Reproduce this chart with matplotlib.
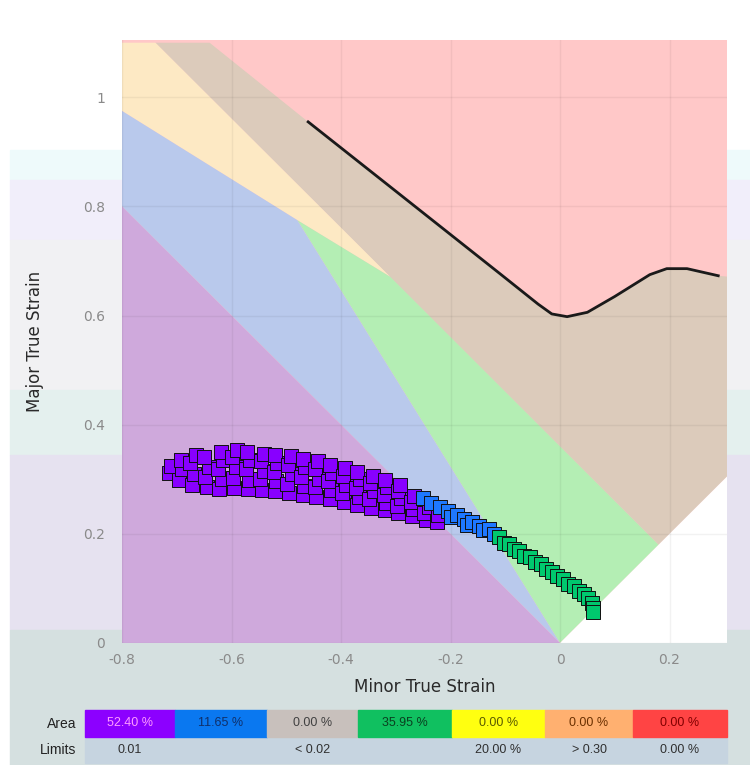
import matplotlib.pyplot as plt
from matplotlib.patches import Rectangle, Polygon

plt.rcParams['axes.unicode_minus'] = False

# ---- forming limit curve (black line)
flc_x = [-0.46, -0.30, -0.11, -0.04, -0.015, 0.013, 0.05, 0.10, 0.164, 0.195, 0.232, 0.289]
flc_y = [0.955, 0.828, 0.677, 0.621, 0.603, 0.598, 0.606, 0.635, 0.675, 0.686, 0.686, 0.673]

# ---- zone outlines (red zone = axes background)
tan_x = [-0.739, -0.64] + flc_x + [0.31, 0.31, 0.18]
tan_y = [1.10, 1.10] + flc_y + [0.671, 0.31, 0.18]
yellow_x = [-0.80, -0.739, -0.31, -0.48, -0.80]
yellow_y = [1.10, 1.10, 0.671, 0.775, 0.975]
green_x = [-0.48, -0.31, 0.18, 0.0]
green_y = [0.775, 0.671, 0.18, 0.0]
blue_x = [-0.80, -0.48, 0.0, -0.80]
blue_y = [0.975, 0.775, 0.0, 0.80]
purple_x = [-0.80, 0.0, -0.80]
purple_y = [0.80, 0.0, 0.0]
white_x = [0.0, 0.31, 0.31]
white_y = [0.0, 0.31, 0.0]

# ---- measured strain points
pts_purple = [
    (-0.715, 0.312), (-0.71, 0.325),
    (-0.695, 0.298), (-0.69, 0.318), (-0.692, 0.335),
    (-0.672, 0.29), (-0.668, 0.31), (-0.675, 0.33), (-0.665, 0.345),
    (-0.645, 0.285), (-0.648, 0.305), (-0.642, 0.322), (-0.65, 0.34),
    (-0.622, 0.282), (-0.618, 0.3), (-0.625, 0.318), (-0.615, 0.336), (-0.62, 0.35),
    (-0.595, 0.284), (-0.598, 0.303), (-0.592, 0.322), (-0.6, 0.34), (-0.59, 0.354),
    (-0.57, 0.283), (-0.568, 0.298), (-0.573, 0.318), (-0.566, 0.336), (-0.572, 0.35),
    (-0.545, 0.28), (-0.548, 0.3), (-0.54, 0.315), (-0.547, 0.333), (-0.54, 0.347),
    (-0.52, 0.278), (-0.518, 0.296), (-0.523, 0.313), (-0.516, 0.33), (-0.52, 0.345),
    (-0.495, 0.275), (-0.498, 0.292), (-0.49, 0.31), (-0.497, 0.326), (-0.492, 0.342),
    (-0.47, 0.272), (-0.468, 0.288), (-0.473, 0.305), (-0.466, 0.322), (-0.47, 0.337),
    (-0.445, 0.268), (-0.448, 0.285), (-0.44, 0.3), (-0.447, 0.318), (-0.442, 0.333),
    (-0.42, 0.263), (-0.418, 0.28), (-0.423, 0.296), (-0.416, 0.312), (-0.42, 0.327),
    (-0.395, 0.258), (-0.398, 0.274), (-0.39, 0.29), (-0.396, 0.306), (-0.392, 0.32),
    (-0.37, 0.253), (-0.368, 0.268), (-0.372, 0.284), (-0.366, 0.3), (-0.37, 0.314),
    (-0.345, 0.248), (-0.348, 0.263), (-0.34, 0.278), (-0.347, 0.293), (-0.342, 0.306),
    (-0.32, 0.243), (-0.318, 0.257), (-0.322, 0.272), (-0.316, 0.286), (-0.32, 0.298),
    (-0.295, 0.238), (-0.298, 0.251), (-0.29, 0.265), (-0.296, 0.278), (-0.292, 0.289),
    (-0.27, 0.232), (-0.268, 0.245), (-0.272, 0.258), (-0.266, 0.27),
    (-0.245, 0.226), (-0.248, 0.238), (-0.24, 0.25),
    (-0.225, 0.222), (-0.222, 0.235),
]
pts_blue = [
    (-0.25, 0.266), (-0.235, 0.256), (-0.22, 0.249), (-0.205, 0.241), (-0.2, 0.23),
    (-0.188, 0.235), (-0.175, 0.228), (-0.17, 0.217), (-0.16, 0.222), (-0.148, 0.215),
    (-0.14, 0.207), (-0.13, 0.208), (-0.12, 0.2),
]
pts_green = [
    (-0.112, 0.194), (-0.103, 0.184), (-0.093, 0.182), (-0.084, 0.172), (-0.075, 0.169),
    (-0.065, 0.16), (-0.055, 0.157), (-0.045, 0.148), (-0.035, 0.144), (-0.025, 0.135),
    (-0.015, 0.131), (-0.005, 0.122), (0.005, 0.118), (0.015, 0.109), (0.025, 0.104),
    (0.035, 0.096), (0.044, 0.09), (0.052, 0.082), (0.058, 0.073), (0.06, 0.064),
    (0.061, 0.056),
]

# ---- ticks
xticks = [-0.8, -0.6, -0.4, -0.2, 0.0, 0.2]
xtick_labels = ['-0.8', '-0.6', '-0.4', '-0.2', '0', '0.2']
yticks = [0.0, 0.2, 0.4, 0.6, 0.8, 1.0]
ytick_labels = ['0', '0.2', '0.4', '0.6', '0.8', '1']

# ---- table under the chart
area_values = ['52.40 %', '11.65 %', '0.00 %', '35.95 %', '0.00 %', '0.00 %', '0.00 %']
area_colors = ['#8c00ff', '#0a78f0', '#c8c0bc', '#10c060', '#ffff10', '#ffb070', '#ff4444']
area_text_colors = ['#ff9cff', '#10306a', '#404040', '#0a4020', '#5a5a00', '#6a3000', '#800000']
limit_values = ['0.01', '< 0.02', '20.00 %', '> 0.30', '0.00 %']
limit_cells = [0, 2, 4, 5, 6]

W, H = 750, 765


def fx(px):
    return px / W


def fy(py):
    return 1 - py / H


fig = plt.figure(figsize=(7.5, 7.65), dpi=100)
fig.patch.set_facecolor('white')

# screenshot background bands
bands = [(150, 180, '#eefafb'), (180, 240, '#f1eefa'), (240, 390, '#f1f1f3'),
         (390, 455, '#e4f0ee'), (455, 630, '#e6e2f0'), (630, 765, '#d5e0e0')]
for top, bot, c in bands:
    fig.patches.append(Rectangle((fx(10), fy(bot)), fx(750) - fx(10), fy(top) - fy(bot),
                                 transform=fig.transFigure, color=c, zorder=-2))

ax = fig.add_axes([fx(122), fy(643), fx(727) - fx(122), fy(40) - fy(643)])
ax.set_facecolor('#ffc8c8')

for xs, ys, c in [(tan_x, tan_y, '#dccbbb'), (yellow_x, yellow_y, '#fde9c4'),
                  (green_x, green_y, '#b4eeb4'), (blue_x, blue_y, '#b9c9ec'),
                  (purple_x, purple_y, '#cfa9dc'), (white_x, white_y, '#ffffff')]:
    ax.add_patch(Polygon(list(zip(xs, ys)), closed=True, facecolor=c, edgecolor='none', zorder=1))

ax.plot(flc_x, flc_y, color='#1a1a1a', lw=2, zorder=4)

for pts, c in [(pts_purple, '#8800ff'), (pts_blue, '#1e78ff'), (pts_green, '#00c86e')]:
    ax.scatter([p[0] for p in pts], [p[1] for p in pts], marker='s', s=95, c=c,
               edgecolors='#111111', linewidths=0.7, zorder=3)

ax.set_xlim(-0.8, 0.305)
ax.set_ylim(0, 1.105)
ax.set_xticks(xticks)
ax.set_xticklabels(xtick_labels)
ax.set_yticks(yticks)
ax.set_yticklabels(ytick_labels)
ax.tick_params(length=0, labelsize=10, labelcolor='#8a8a8a')
ax.tick_params(axis='x', pad=7)
ax.tick_params(axis='y', pad=12)
ax.set_axisbelow('line')
ax.grid(True, color='#000000', alpha=0.05, lw=1)
for s in ax.spines.values():
    s.set_visible(False)

ax.set_xlabel('Minor True Strain', fontsize=12, color='#2a2a2a', labelpad=8)
ax.set_ylabel('Major True Strain', fontsize=12, color='#2a2a2a', labelpad=28)

# area / limits table
cell_left = [85, 175, 267, 358, 452, 545, 633]
cell_right = cell_left[1:] + [727]
fig.patches.append(Rectangle((fx(85), fy(763)), fx(727) - fx(85), fy(737) - fy(763),
                             transform=fig.transFigure, color='#c6d4e0', zorder=-1))
for i, val in enumerate(area_values):
    l, r = cell_left[i], cell_right[i]
    fig.patches.append(Rectangle((fx(l), fy(737)), fx(r) - fx(l), fy(710) - fy(737),
                                 transform=fig.transFigure, color=area_colors[i], zorder=-1))
    fig.text(fx((l + r) / 2), fy(723.5), val, ha='center', va='center',
             fontsize=9, color=area_text_colors[i], family='Liberation Sans')
for val, i in zip(limit_values, limit_cells):
    cx = (cell_left[i] + cell_right[i]) / 2
    fig.text(fx(cx), fy(750), val, ha='center', va='center', fontsize=9,
             color='#303030', family='Liberation Sans')
fig.text(fx(76), fy(723.5), 'Area', ha='right', va='center', fontsize=10, color='#222222',
         family='Liberation Sans')
fig.text(fx(76), fy(750), 'Limits', ha='right', va='center', fontsize=10, color='#222222',
         family='Liberation Sans')

fig.savefig('out.png', dpi=100)
